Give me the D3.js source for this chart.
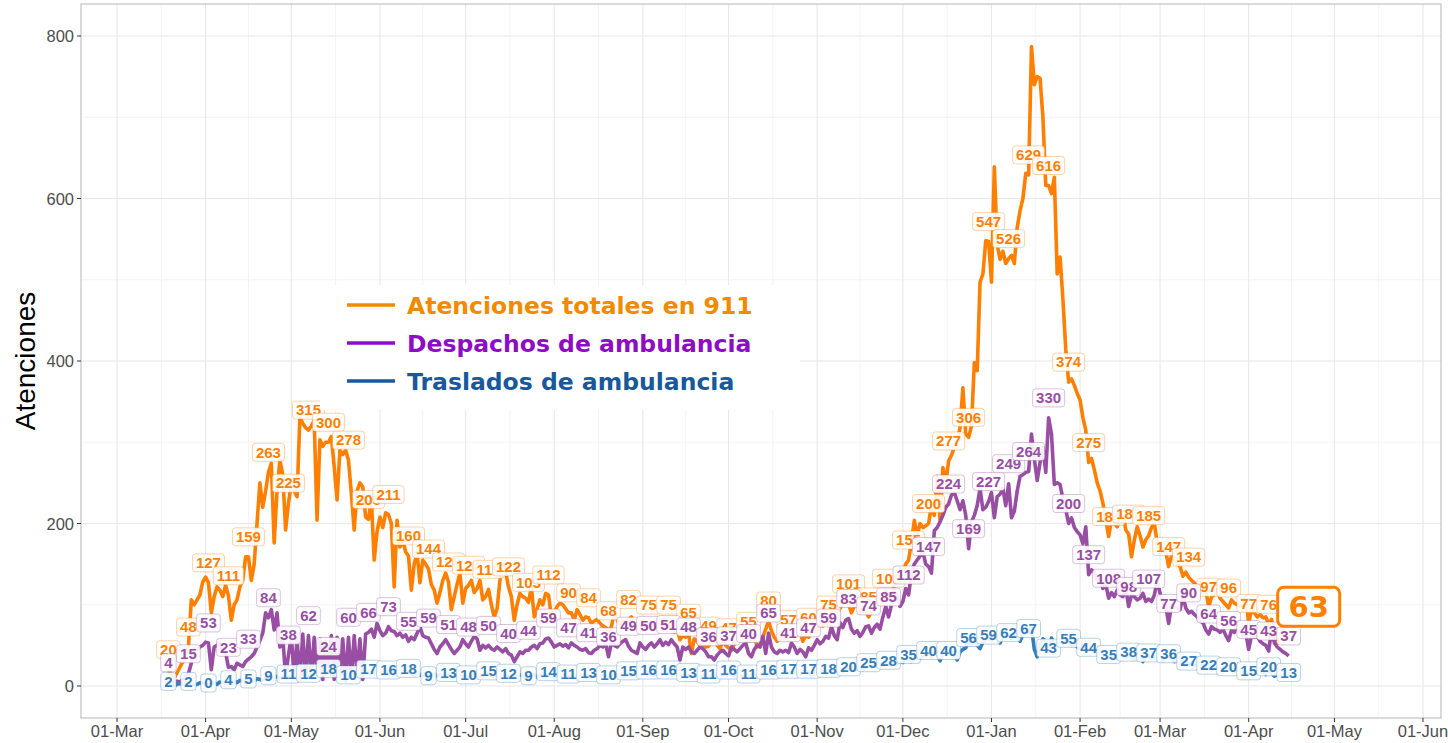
<!DOCTYPE html>
<html>
<head>
<meta charset="utf-8">
<script src="https://cdn.jsdelivr.net/npm/d3@7"></script>
<style>
  body { margin: 0; background: #fff; }
  svg { display: block; }
</style>
</head>
<body>
<svg width="1448" height="743"></svg>
<script>
// first day of the daily series (one value per day)
const startDate = Date.UTC(2020, 2, 19);

const seriesNames = ['Atenciones totales en 911', 'Despachos de ambulancia', 'Traslados de ambulancia'];

const atenciones = [
  20, 14, 10, 16, 23, 30, 38,   48, 106, 100, 106, 112, 128, 134,
  127, 90, 110, 122, 118, 110, 124,   111, 81, 100, 106, 122, 130, 159,
  159, 130, 150, 200, 250, 220, 240,   263, 274, 176, 240, 278, 260, 192,
  225, 250, 240, 233, 331, 323, 318,   315, 320, 327, 204, 303, 295, 300,
  300, 307, 270, 229, 290, 285, 290,   278, 237, 192, 240, 250, 245, 208,
  205, 230, 155, 190, 208, 195, 213,   211, 200, 122, 204, 171, 180, 165,
  160, 118, 150, 164, 127, 155, 150,   144, 125, 118, 102, 115, 130, 139,
  128, 94, 110, 125, 139, 102, 120,   124, 130, 115, 120, 130, 106, 110,
  119, 100, 85, 95, 130, 151, 140,   122, 110, 81, 100, 114, 110, 108,
  103, 122, 85, 95, 106, 100, 114,   112, 85, 90, 98, 102, 100, 95,
  90, 90, 81, 94, 88, 81, 85,   84, 77, 80, 82, 77, 74, 72,
  68, 73, 90, 82, 75, 80, 78,   82, 85, 76, 70, 78, 80, 72,
  75, 78, 70, 74, 80, 82, 73,   75, 72, 66, 70, 57, 62, 60,
  65, 40, 58, 55, 50, 52, 48,   49, 55, 58, 50, 46, 56, 50,
  47, 44, 52, 58, 69, 60, 55,   55, 58, 62, 48, 52, 60, 70,
  80, 68, 60, 55, 58, 62, 60,   57, 62, 58, 60, 65, 55, 62,
  60, 68, 72, 66, 81, 74, 78,   75, 106, 95, 90, 96, 100, 110,
  101, 90, 98, 106, 95, 90, 92,   85, 92, 96, 100, 106, 102, 118,
  108, 112, 125, 130, 145, 140, 150,   155, 177, 204, 185, 200, 195, 197,
  200, 222, 210, 258, 204, 269, 250,   277, 284, 294, 300, 318, 367, 310,
  306, 320, 398, 388, 497, 507, 548,   547, 497, 639, 543, 525, 535, 520,
  526, 530, 520, 564, 585, 600, 631,   629, 787, 740, 750, 748, 700, 616,
  616, 606, 626, 507, 528, 476, 414,   374, 378, 370, 360, 352, 330, 315,
  275, 280, 266, 250, 240, 225, 204,   184, 204, 200, 196, 205, 213, 192,
  187, 159, 180, 196, 185, 171, 180,   185, 195, 200, 176, 164, 170, 165,
  147, 160, 171, 150, 147, 135, 140,   134, 130, 127, 120, 127, 114, 118,
  97, 110, 112, 118, 108, 104, 100,   96, 106, 102, 100, 98, 104, 110,
  77, 94, 90, 85, 88, 84, 85,   76, 82, 60, 53, 70, 66, 58,
  63
];

const despachos = [
  4, 3, 5, 6, 5, 8, 12,   15, 28, 46, 44, 48, 50, 54,
  53, 20, 48, 50, 53, 45, 41,   23, 24, 20, 28, 26, 24, 30,
  33, 36, 40, 48, 56, 65, 90,   84, 94, 69, 90, 48, 60, 12,
  38, 62, 10, 58, 8, 64, 12,   62, 10, 60, 14, 58, 8, 55,
  24, 62, 8, 60, 12, 58, 6,   60, 10, 62, 14, 58, 8, 64,
  66, 70, 60, 77, 68, 62, 65,   73, 68, 67, 62, 65, 60, 63,
  55, 60, 57, 65, 73, 62, 60,   59, 52, 45, 40, 48, 52, 57,
  51, 45, 40, 44, 48, 57, 52,   48, 55, 61, 58, 44, 50, 47,
  50, 46, 44, 48, 45, 42, 46,   40, 38, 30, 36, 42, 40, 44,
  44, 48, 50, 46, 52, 53, 58,   59, 54, 48, 50, 52, 49, 51,
  47, 53, 50, 48, 45, 44, 46,   41, 40, 44, 46, 50, 48, 52,
  36, 53, 50, 48, 52, 55, 57,   49, 44, 42, 40, 53, 48, 45,
  50, 53, 48, 52, 57, 50, 54,   51, 57, 52, 48, 32, 48, 45,
  48, 42, 40, 44, 48, 46, 42,   36, 36, 32, 38, 42, 44, 40,
  37, 48, 45, 42, 46, 50, 53,   40, 36, 45, 50, 48, 61, 40,
  65, 48, 42, 40, 44, 42, 44,   41, 53, 48, 40, 45, 42, 36,
  47, 44, 50, 57, 52, 55, 61,   59, 73, 62, 57, 78, 72, 81,
  83, 70, 65, 68, 61, 66, 73,   74, 65, 72, 76, 70, 85, 98,
  85, 100, 118, 110, 98, 104, 120,   112, 139, 150, 155, 160, 165, 150,
  147, 139, 191, 195, 202, 210, 220,   224, 235, 238, 228, 217, 228, 210,
  169, 202, 210, 222, 243, 217, 220,   227, 238, 207, 233, 236, 243, 222,
  249, 207, 215, 240, 258, 260, 263,   264, 310, 279, 253, 275, 294, 263,
  330, 310, 248, 250, 248, 230, 217,   200, 207, 195, 190, 186, 175, 196,
  137, 143, 140, 130, 134, 120, 125,   108, 115, 110, 118, 112, 110, 120,
  98, 112, 110, 106, 108, 114, 104,   107, 104, 112, 130, 114, 102, 98,
  77, 100, 98, 96, 94, 110, 96,   90, 92, 88, 85, 80, 78, 69,
  64, 73, 70, 69, 66, 70, 62,   56, 69, 66, 78, 70, 62, 65,
  45, 62, 60, 61, 55, 52, 50,   43, 69, 53, 48, 45, 42, 40,
  37
];

const traslados = [
  2, 1, 0, 2, 3, 2, 1,   2, 3, 1, 2, 4, 3, 2,
  0, 3, 4, 2, 5, 4, 3,   4, 5, 6, 4, 7, 6, 5,
  5, 8, 6, 9, 8, 7, 10,   9, 11, 10, 12, 9, 11, 13,
  11, 12, 14, 10, 13, 15, 12,   12, 15, 17, 14, 16, 13, 15,
  18, 14, 16, 12, 15, 17, 13,   10, 14, 16, 15, 18, 14, 16,
  17, 15, 18, 16, 14, 17, 19,   16, 18, 15, 17, 14, 16, 18,
  18, 15, 13, 16, 14, 12, 15,   9, 13, 15, 12, 14, 11, 13,
  13, 15, 11, 14, 12, 10, 12,   10, 13, 15, 12, 14, 11, 16,
  15, 13, 11, 14, 12, 10, 13,   12, 10, 13, 11, 14, 12, 9,
  9, 12, 14, 11, 13, 15, 12,   14, 12, 10, 13, 11, 12, 14,
  11, 13, 12, 10, 14, 12, 11,   13, 11, 14, 12, 10, 13, 12,
  10, 12, 14, 13, 15, 11, 13,   15, 13, 16, 14, 12, 15, 17,
  16, 14, 13, 15, 17, 14, 15,   16, 13, 15, 17, 14, 12, 14,
  13, 11, 14, 12, 10, 13, 12,   11, 13, 12, 14, 15, 13, 16,
  16, 14, 12, 15, 13, 11, 14,   11, 13, 15, 12, 14, 16, 13,
  16, 14, 17, 15, 13, 16, 18,   17, 15, 18, 16, 14, 17, 19,
  17, 12, 18, 16, 19, 17, 18,   18, 20, 17, 19, 21, 18, 20,
  20, 22, 19, 21, 23, 20, 24,   25, 23, 26, 24, 27, 25, 28,
  28, 26, 30, 27, 31, 29, 33,   35, 30, 33, 36, 34, 38, 37,
  40, 36, 42, 39, 31, 41, 43,   40, 44, 38, 32, 42, 45, 47,
  56, 52, 55, 50, 46, 54, 57,   59, 56, 60, 58, 53, 61, 62,
  62, 58, 64, 60, 55, 63, 66,   67, 72, 45, 36, 50, 58, 55,
  43, 59, 52, 48, 55, 53, 57,   55, 50, 52, 48, 46, 50, 47,
  44, 46, 42, 40, 43, 38, 37,   35, 38, 36, 34, 39, 37, 35,
  38, 35, 33, 37, 36, 30, 38,   37, 34, 36, 33, 35, 31, 37,
  36, 33, 30, 32, 29, 31, 28,   27, 29, 25, 27, 24, 26, 23,
  22, 24, 21, 23, 20, 22, 19,   20, 21, 19, 17, 20, 18, 16,
  15, 17, 18, 16, 19, 17, 14,   20, 16, 12, 14, 13, 11, 12,
  13
];

const yTicks = [0, 200, 400, 600, 800];
const yMinor = [100, 300, 500, 700];
const yTitle = 'Atenciones';

const lineColors = ['#ff7f00', '#984ea3', '#377eb8'];
const legendColors = ['#f28a00', '#8e0cc4', '#17599b'];

const svg = d3.select('svg');
const panel = { left: 81, right: 1441, top: 4, bottom: 718 };

const x = d3.scaleUtc()
  .domain([new Date(Date.UTC(2020, 2, 1)), new Date(Date.UTC(2021, 5, 1))])
  .range([117, 1423]);
const y = d3.scaleLinear().domain([0, 800]).range([686, 36]);
const day = i => new Date(startDate + i * 864e5);

// panel background + grid
svg.append('rect')
  .attr('x', panel.left).attr('y', panel.top)
  .attr('width', panel.right - panel.left).attr('height', panel.bottom - panel.top)
  .attr('fill', '#fff');

const months = d3.utcMonth.range(new Date(Date.UTC(2020, 2, 1)), new Date(Date.UTC(2021, 5, 2)));
const midMonths = d3.pairs(months).map(([a, b]) => new Date((+a + +b) / 2));

const grid = svg.append('g');
grid.selectAll('.vmin').data(midMonths).enter().append('line')
  .attr('x1', d => x(d)).attr('x2', d => x(d))
  .attr('y1', panel.top).attr('y2', panel.bottom)
  .attr('stroke', '#f3f3f3').attr('stroke-width', 1);
grid.selectAll('.hmin').data(yMinor).enter().append('line')
  .attr('x1', panel.left).attr('x2', panel.right)
  .attr('y1', d => y(d)).attr('y2', d => y(d))
  .attr('stroke', '#f3f3f3').attr('stroke-width', 1);
grid.selectAll('.vmaj').data(months).enter().append('line')
  .attr('x1', d => x(d)).attr('x2', d => x(d))
  .attr('y1', panel.top).attr('y2', panel.bottom)
  .attr('stroke', '#e8e8e8').attr('stroke-width', 1.1);
grid.selectAll('.hmaj').data(yTicks).enter().append('line')
  .attr('x1', panel.left).attr('x2', panel.right)
  .attr('y1', d => y(d)).attr('y2', d => y(d))
  .attr('stroke', '#e8e8e8').attr('stroke-width', 1.1);

// lines
const line = d3.line().x((d, i) => x(day(i))).y(d => y(d)).curve(d3.curveLinear);
const allSeries = [atenciones, despachos, traslados];
allSeries.forEach((data, s) => {
  svg.append('path')
    .datum(data)
    .attr('d', line)
    .attr('fill', 'none')
    .attr('stroke', lineColors[s])
    .attr('stroke-width', 3.6)
    .attr('stroke-linejoin', 'round');
});

// weekly value labels
const labelLift = [20, 20, 3];
allSeries.forEach((data, s) => {
  const g = svg.append('g')
    .attr('font-family', 'Liberation Sans, Arial, sans-serif')
    .attr('font-weight', 'bold')
    .attr('font-size', 15);
  data.forEach((v, i) => {
    if (i % 7 !== 0) return;
    if (s === 0 && i === data.length - 1) return; // last one gets the big label
    const cx = x(day(i)), cy = y(v) - labelLift[s];
    const lg = g.append('g');
    const rect = lg.append('rect');
    const t = lg.append('text')
      .attr('x', cx).attr('y', cy + 5.3)
      .attr('text-anchor', 'middle')
      .attr('fill', lineColors[s])
      .text(v);
    const w = t.node().getComputedTextLength() + 7;
    rect.attr('x', cx - w / 2).attr('y', cy - 9)
      .attr('width', w).attr('height', 18)
      .attr('rx', 3)
      .attr('fill', '#fff').attr('fill-opacity', 0.9)
      .attr('stroke', lineColors[s]).attr('stroke-opacity', 0.35)
      .attr('stroke-width', 1);
  });
});

// panel border
svg.append('rect')
  .attr('x', panel.left).attr('y', panel.top)
  .attr('width', panel.right - panel.left).attr('height', panel.bottom - panel.top)
  .attr('fill', 'none').attr('stroke', '#b5b5b5').attr('stroke-width', 1);

// axes
const xAxis = svg.append('g');
months.forEach(m => {
  xAxis.append('line')
    .attr('x1', x(m)).attr('x2', x(m))
    .attr('y1', panel.bottom).attr('y2', panel.bottom + 4)
    .attr('stroke', '#333');
  xAxis.append('text')
    .attr('x', x(m)).attr('y', 737)
    .attr('text-anchor', 'middle')
    .attr('font-family', 'Liberation Sans, Arial, sans-serif')
    .attr('font-size', 16.5)
    .attr('fill', '#4d4d4d')
    .text(d3.utcFormat('%d-%b')(m));
});
const yAxis = svg.append('g');
yTicks.forEach(t => {
  yAxis.append('line')
    .attr('x1', panel.left - 4).attr('x2', panel.left)
    .attr('y1', y(t)).attr('y2', y(t))
    .attr('stroke', '#333');
  yAxis.append('text')
    .attr('x', panel.left - 7).attr('y', y(t) + 6)
    .attr('text-anchor', 'end')
    .attr('font-family', 'Liberation Sans, Arial, sans-serif')
    .attr('font-size', 16.5)
    .attr('fill', '#4d4d4d')
    .text(t);
});
svg.append('text')
  .attr('transform', 'translate(35,' + ((y(0) + y(800)) / 2) + ') rotate(-90)')
  .attr('text-anchor', 'middle')
  .attr('font-family', 'Liberation Sans, Arial, sans-serif')
  .attr('font-size', 28)
  .attr('fill', '#000')
  .text(yTitle);

// legend
const legend = svg.append('g');
legend.append('rect')
  .attr('x', 320).attr('y', 285).attr('width', 480).attr('height', 125)
  .attr('fill', '#fff');
seriesNames.forEach((name, s) => {
  const ly = 305 + s * 38;
  legend.append('line')
    .attr('x1', 347).attr('x2', 395)
    .attr('y1', ly).attr('y2', ly)
    .attr('stroke', legendColors[s]).attr('stroke-width', 3.6);
  legend.append('text')
    .attr('x', 407).attr('y', ly + 9)
    .attr('font-family', 'DejaVu Sans, sans-serif')
    .attr('font-weight', 'bold')
    .attr('font-size', 23.5)
    .attr('fill', legendColors[s])
    .text(name);
});

// big label for the last total value
const last = atenciones.length - 1;
const bx = x(day(last)) + 20, by = y(atenciones[last]) - 28;
const big = svg.append('g');
big.append('rect')
  .attr('x', bx - 31).attr('y', by - 19.5)
  .attr('width', 62).attr('height', 39)
  .attr('rx', 6)
  .attr('fill', '#fff')
  .attr('stroke', lineColors[0]).attr('stroke-width', 3);
big.append('text')
  .attr('x', bx).attr('y', by + 10.5)
  .attr('text-anchor', 'middle')
  .attr('font-family', 'DejaVu Sans, sans-serif')
  .attr('font-weight', 'bold')
  .attr('font-size', 29)
  .attr('fill', lineColors[0])
  .text(atenciones[last]);
</script>
</body>
</html>
